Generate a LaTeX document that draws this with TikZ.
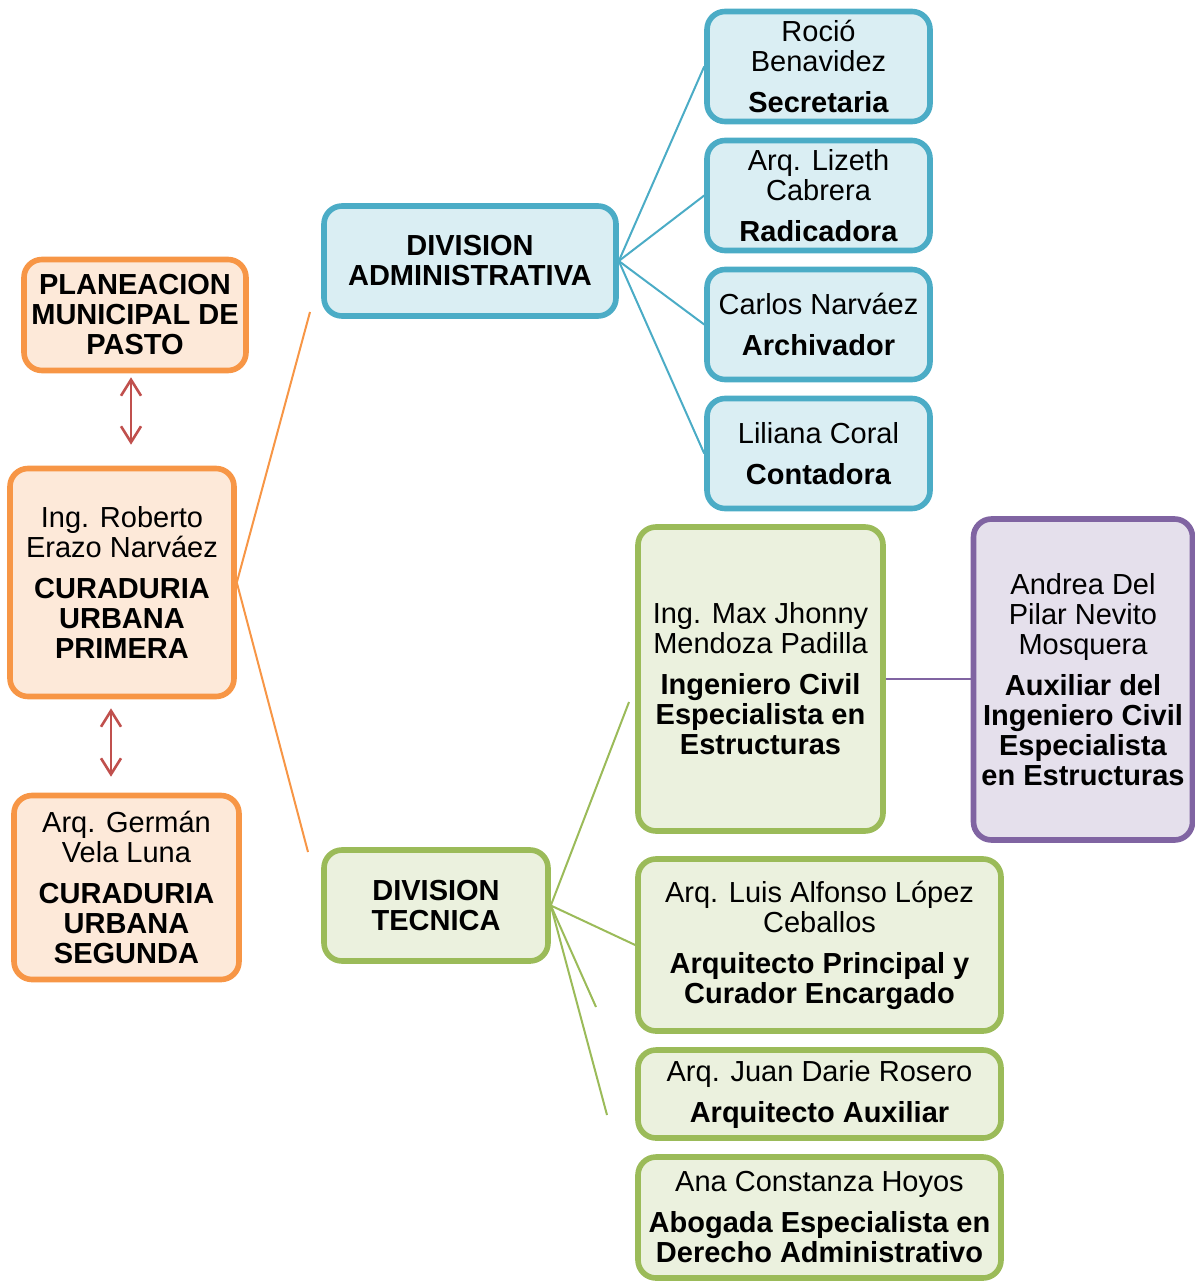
\documentclass[tikz,border=0pt]{standalone}
\usepackage{fontspec}
\setmainfont{Liberation Sans}
\usetikzlibrary{arrows.meta}
\definecolor{ornline}{HTML}{F79646}
\definecolor{ornfill}{HTML}{FDE9D9}
\definecolor{bluline}{HTML}{4BACC6}
\definecolor{blufill}{HTML}{DAEEF3}
\definecolor{grnline}{HTML}{9BBB59}
\definecolor{grnfill}{HTML}{EBF1DE}
\definecolor{purline}{HTML}{8064A2}
\definecolor{purfill}{HTML}{E5E0EC}
\definecolor{redline}{HTML}{C0504D}
\tikzset{every node/.style={align=center, inner sep=2pt, font=\fontsize{14.5}{15}\selectfont},
  orgbox/.style={draw, rectangle, rounded corners=9pt, line width=2.8pt},
  ornbox/.style={orgbox, draw=ornline, fill=ornfill},
  blubox/.style={orgbox, draw=bluline, fill=blufill, minimum width=111.5pt, minimum height=55pt},
  grnbox/.style={orgbox, draw=grnline, fill=grnfill},
  purbox/.style={orgbox, draw=purline, fill=purfill},
  link/.style={line width=1pt},
  twoway/.style={redline, line width=1.3pt, {Straight Barb[length=8pt,width=10pt]}-{Straight Barb[length=8pt,width=10pt]}}}

\begin{document}
\begin{tikzpicture}[x=0.5pt,y=-0.5pt]
       \useasboundingbox (0,0) rectangle (1194,1283);
       % left column
       \node[ornbox, minimum width=111pt, minimum height=55.5pt] (plan) at (135,315)
         {\textbf{PLANEACION}\\\textbf{MUNICIPAL DE}\\\textbf{PASTO}};
       \node[ornbox, minimum width=112pt, minimum height=114pt] (rob) at (122,582.5)
         {Ing. Roberto\\Erazo Narváez\\[5.5pt]\textbf{CURADURIA}\\\textbf{URBANA}\\\textbf{PRIMERA}};
       \node[ornbox, minimum width=112.5pt, minimum height=92pt] (ger) at (126.5,887.5)
         {Arq. Germán\\Vela Luna\\[5.5pt]\textbf{CURADURIA}\\\textbf{URBANA}\\\textbf{SEGUNDA}};
       \coordinate (arrA) at (131,0);
       \coordinate (arrB) at (111,0);
       \draw[twoway, shorten <=2pt, shorten >=10.5pt] (plan.south -| arrA) -- (rob.north -| arrA);
       \draw[twoway, shorten <=4.5pt, shorten >=8pt] (rob.south -| arrB) -- (ger.north -| arrB);

       % divisions
       \node[orgbox, draw=bluline, fill=blufill, minimum width=146pt, minimum height=55pt] (admin) at (470,261)
         {\textbf{DIVISION}\\\textbf{ADMINISTRATIVA}};
       \node[grnbox, minimum width=112pt, minimum height=55.5pt] (tec) at (436,905.5)
         {\textbf{DIVISION}\\\textbf{TECNICA}};
       \coordinate (adminEnd) at (310,312);
       \coordinate (tecEnd) at (308,852);
       \draw[link, ornline] (rob.east) -- (adminEnd);
       \draw[link, ornline] (rob.east) -- (tecEnd);

       % administrativa
       \node[blubox] (rocio) at (818.5,66.5) {Roció\\Benavidez\\[5.5pt]\textbf{Secretaria}};
       \node[blubox] (lizeth) at (818.5,195.5) {Arq. Lizeth\\Cabrera\\[5.5pt]\textbf{Radicadora}};
       \node[blubox] (carlos) at (818.5,324.5) {Carlos Narváez\\[5.5pt]\textbf{Archivador}};
       \node[blubox] (liliana) at (818.5,453.5) {Liliana Coral\\[5.5pt]\textbf{Contadora}};
       \foreach \n in {rocio,lizeth,carlos,liliana}
         \draw[link, bluline] (admin.east) -- (\n.west);

       % tecnica
       \node[grnbox, minimum width=122.5pt, minimum height=152pt] (max) at (760.5,679)
         {Ing. Max Jhonny\\Mendoza Padilla\\[5.5pt]\textbf{Ingeniero Civil}\\\textbf{Especialista en}\\\textbf{Estructuras}};
       \node[purbox, minimum width=109.5pt, minimum height=160.5pt] (andrea) at (1083,679.5)
         {Andrea Del\\Pilar Nevito\\Mosquera\\[5.5pt]\textbf{Auxiliar del}\\\textbf{Ingeniero Civil}\\\textbf{Especialista}\\\textbf{en Estructuras}};
       \node[grnbox, minimum width=181.5pt, minimum height=86pt] (luis) at (819.5,945)
         {Arq. Luis Alfonso López\\Ceballos\\[5.5pt]\textbf{Arquitecto Principal y}\\\textbf{Curador Encargado}};
       \node[grnbox, minimum width=181.5pt, minimum height=44pt] (juan) at (819.5,1094)
         {Arq. Juan Darie Rosero\\[5.5pt]\textbf{Arquitecto Auxiliar}};
       \node[grnbox, minimum width=181.5pt, minimum height=60.5pt] (ana) at (819.5,1217.5)
         {Ana Constanza Hoyos\\[5.5pt]\textbf{Abogada Especialista en}\\\textbf{Derecho Administrativo}};
       \draw[link, purline] (max.east) -- (max.east -| andrea.west);
       \coordinate (tecA) at (629,702);
       \coordinate (tecB) at (596,1007);
       \coordinate (tecC) at (607,1115);
       \draw[link, grnline] (tec.east) -- (tecA);
       \draw[link, grnline] (tec.east) -- (luis.west);
       \draw[link, grnline] (tec.east) -- (tecB);
       \draw[link, grnline] (tec.east) -- (tecC);
\end{tikzpicture}
\end{document}
